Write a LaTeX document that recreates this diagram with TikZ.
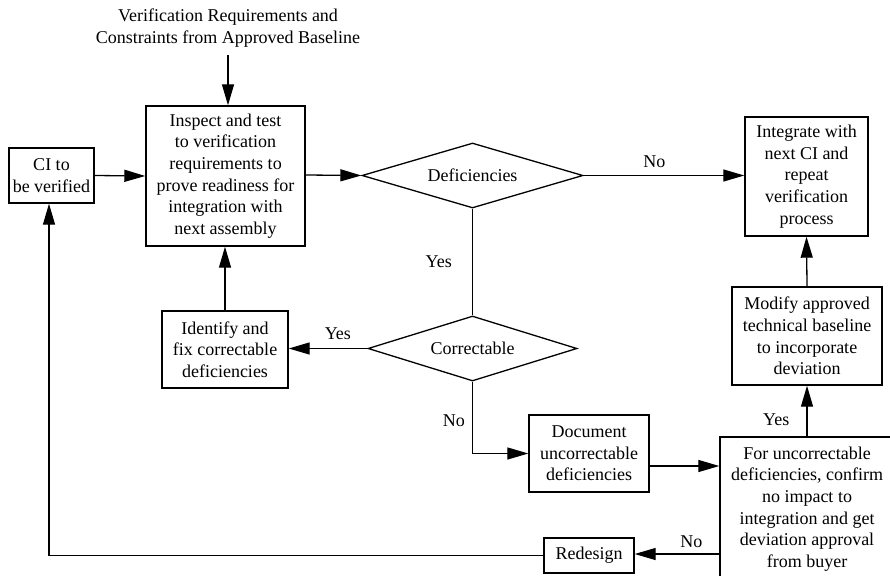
\documentclass[tikz,border=0pt]{standalone}
\usepackage{fontspec}
\setmainfont{Liberation Serif}
\usetikzlibrary{arrows.meta,shapes.geometric}
\begin{document}
\begin{tikzpicture}[x=1pt,y=-1pt,
  every node/.style={font=\fontsize{18}{21.6}\selectfont, align=center, inner sep=0pt},
  box/.style={draw, line width=1.4pt, rectangle},
  dec/.style={draw, line width=1.3pt, diamond, inner sep=0pt},
  conn/.style={line width=1.3pt},
  arr/.style={conn, -{Triangle[length=21pt,width=12pt]}}]
\useasboundingbox (0,0) rectangle (890,575);
\clip (0,0) rectangle (890,575);
\node (top) at (228,28) [inner ysep=8pt] {Verification Requirements and\\Constraints from Approved Baseline};
\node[box, minimum width=85pt, minimum height=55pt] (ci) at (51.5,175.5) {CI to\\be verified};
\node[box, minimum width=159pt, minimum height=140pt] (insp) at (225.5,176) {Inspect and test\\to verification\\requirements to\\prove readiness for\\integration with\\next assembly};
\node[dec, shape aspect=3.4, minimum width=221pt, minimum height=65pt] (def) at (472.5,175.5) {Deficiencies};
\node[box, minimum width=123pt, minimum height=119pt] (integ) at (806.5,176.5) {Integrate with\\next CI and\\repeat\\verification\\process};
\node[box, minimum width=150pt, minimum height=98pt] (mod) at (807,336) {Modify approved\\technical baseline\\to incorporate\\deviation};
\node[dec, shape aspect=3.2, minimum width=209pt, minimum height=65pt] (corr) at (472.5,348.5) {Correctable};
\node[box, minimum width=126pt, minimum height=77pt] (ident) at (225,349.5) {Identify and\\fix correctable\\deficiencies};
\node[box, minimum width=120pt, minimum height=77pt] (doc) at (589,453.5) {Document\\uncorrectable\\deficiencies};
\node[box, minimum width=174pt, minimum height=144pt] (for) at (807,509) {For uncorrectable\\deficiencies, confirm\\no impact to\\integration and get\\deviation approval\\from buyer};
\node[box, minimum width=90pt, minimum height=35pt] (red) at (589,555.5) {Redesign};

\draw[arr] (top.south) -- (top.south |- insp.north);
\draw[arr] (ci.east) -- (insp.west);
\draw[arr] ([yshift=1pt]insp.east) -- (def.west);
\draw[arr] (def.east) -- node[pos=0.44, above=7pt] (no1) {No} (def.east -| integ.west);
\draw[conn] (def.south) -- node[left=20pt] (yes1) {Yes} (corr.north);
\draw[arr] (corr.west) -- node[pos=0.375, above=8pt] (yes2) {Yes} (corr.west -| ident.east);
\draw[arr] (ident.north) -- (ident.north |- insp.south);
\draw[arr] (corr.south) |- node[pos=0.27, left=7pt] (no2) {No} (doc.west);
\draw[arr] ([yshift=-12.5pt]doc.east) -- ([yshift=-12.5pt]doc.east -| for.west);
\draw[arr] (for.north) -- node[pos=0.33, left=17pt] (yes3) {Yes} (mod.south);
\draw[arr] (mod.north) -- (integ.south);
\draw[arr] ([yshift=-45pt]for.west) -- node[pos=0.33, above=6pt] (no3) {No} ([yshift=-45pt]for.west -| red.east);
\draw[arr] (red.west) -| ([xshift=-2.5pt]ci.south);
\end{tikzpicture}
\end{document}
